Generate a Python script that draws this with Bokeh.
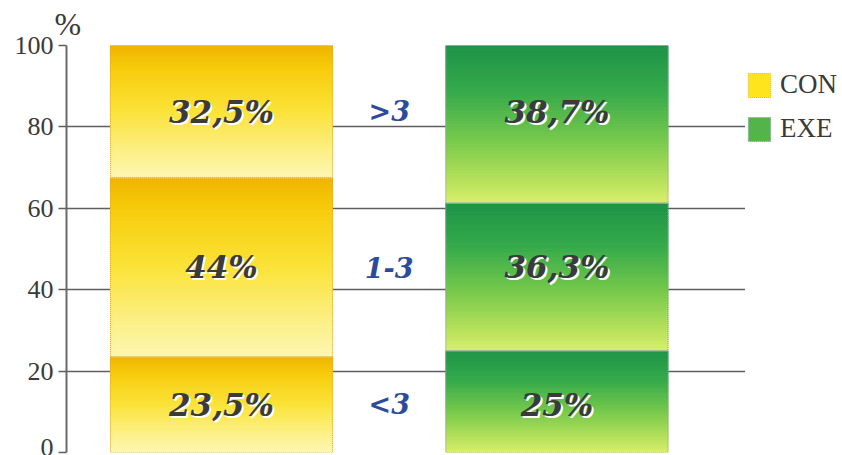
import numpy as np
from bokeh.plotting import figure
from bokeh.layouts import row
from bokeh.models import ColumnDataSource, FixedTicker, Legend, LegendItem, Range1d
from bokeh.core.properties import value
from bokeh.embed import file_html
from bokeh.resources import INLINE

# ---- data -------------------------------------------------------------
groups = ["CON", "EXE"]
classes = ["<3", "1-3", ">3"]          # bottom -> top
con_share = [23.5, 44.0, 32.5]          # %
exe_share = [25.0, 36.3, 38.7]          # %
y_ticks = [0, 20, 40, 60, 80, 100]

# ---- layout / style ---------------------------------------------------
group_x = {"CON": 1.0, "EXE": 2.0}
label_x = 1.5
bar_width = 0.662

con_stops = [(0.0, "#efb300"), (0.18, "#f7cc0c"), (0.5, "#fbe339"),
             (0.82, "#fcf08a"), (1.0, "#fdf6b2")]
exe_stops = [(0.0, "#1d9347"), (0.3, "#36aa4b"), (0.6, "#76c94c"),
             (0.85, "#b4e05a"), (1.0, "#d8ee6c")]

HEAVY = value("DejaVu Serif")


def hex_rgb(h):
    h = h.lstrip("#")
    return np.array([int(h[i:i + 2], 16) for i in (0, 2, 4)], dtype=float)


def blend(stops, f):
    for (f0, c0), (f1, c1) in zip(stops[:-1], stops[1:]):
        if f0 <= f <= f1:
            t = (f - f0) / (f1 - f0)
            rgb = hex_rgb(c0) * (1 - t) + hex_rgb(c1) * t
            return "#%02x%02x%02x" % tuple(int(round(v)) for v in rgb)
    return stops[-1][1]


def stack(shares):
    tops = np.cumsum(shares)
    bottoms = tops - np.asarray(shares)
    return bottoms, tops


def gradient_source(x, shares, stops, n=60):
    """Thin horizontal strips that shade each stacked segment top -> bottom."""
    bottoms, tops = stack(shares)
    d = dict(left=[], right=[], bottom=[], top=[], color=[])
    for b, t in zip(bottoms, tops):
        edges = np.linspace(t, b, n + 1)
        for i in range(n):
            d["left"].append(x - bar_width / 2)
            d["right"].append(x + bar_width / 2)
            d["top"].append(edges[i])
            d["bottom"].append(edges[i + 1])
            d["color"].append(blend(stops, (i + 0.5) / n))
    return ColumnDataSource(d)


def fmt(v):
    return ("%g" % v).replace(".", ",") + "%"


p = figure(width=745, height=455, output_backend="svg", toolbar_location=None,
           x_range=Range1d(0.538, 2.562), y_range=Range1d(0, 100),
           x_axis_location=None, min_border_left=66, min_border_top=45,
           min_border_bottom=3, min_border_right=0, title="%")
p.outline_line_color = None
p.background_fill_color = "white"
p.border_fill_color = "white"

# unit shown above the axis
p.title.align = "left"
p.title.offset = -12
p.title.standoff = 7
p.title.text_font = "Liberation Serif"
p.title.text_font_style = "normal"
p.title.text_font_size = "32px"
p.title.text_color = "#3a3a3a"

# grid + axis
p.xgrid.visible = False
p.ygrid.ticker = FixedTicker(ticks=y_ticks)
p.ygrid.grid_line_color = "#5e5e5e"
p.ygrid.grid_line_width = 1.5
ax = p.yaxis[0]
ax.ticker = FixedTicker(ticks=y_ticks)
ax.axis_line_color = "#6a6a6a"
ax.axis_line_width = 2
ax.major_tick_line_color = "#5e5e5e"
ax.major_tick_line_width = 1.5
ax.major_tick_out = 8
ax.major_tick_in = 0
ax.minor_tick_line_color = None
ax.major_label_standoff = 5
ax.major_label_text_font = "Liberation Serif"
ax.major_label_text_font_size = "26px"
ax.major_label_text_color = "#3a3a3a"

# stacked bars with shaded segments
bar_outline = {"CON": "#e3a532", "EXE": "#8fa3a0"}
for g, shares, stops in (("CON", con_share, con_stops), ("EXE", exe_share, exe_stops)):
    x = group_x[g]
    src = gradient_source(x, shares, stops)
    p.quad(left="left", right="right", top="top", bottom="bottom", source=src,
           fill_color="color", line_color="color", line_width=1)
    bottoms, tops = stack(shares)
    p.quad(left=[x - bar_width / 2] * len(shares), right=[x + bar_width / 2] * len(shares),
           bottom=list(bottoms), top=list(tops), fill_color=None,
           line_color=bar_outline[g], line_width=1, line_dash="1 1")

# rows follow the CON segment centres
con_b, con_t = stack(con_share)
row_y = list((con_b + con_t) / 2)

vals = ColumnDataSource(dict(
    x=[group_x["CON"]] * 3 + [group_x["EXE"]] * 3,
    y=row_y + row_y,
    text=[fmt(v) for v in con_share] + [fmt(v) for v in exe_share],
))
p.text(x="x", y="y", text="text", source=vals, x_offset=2, y_offset=2,
       text_font=HEAVY, text_font_style="bold italic", text_font_size="31px",
       text_color="white", text_align="center", text_baseline="middle")
p.text(x="x", y="y", text="text", source=vals,
       text_font=HEAVY, text_font_style="bold italic", text_font_size="31px",
       text_color="#3b3b3b", text_align="center", text_baseline="middle")

rows = ColumnDataSource(dict(x=[label_x] * 3, y=row_y, text=classes))
p.text(x="x", y="y", text="text", source=rows,
       text_font=HEAVY, text_font_style="bold italic", text_font_size="27px",
       text_color="#2d4b9b", text_align="center", text_baseline="middle")

# legend in a narrow side figure (key renderers carry no visible data)
side = figure(width=97, height=455, output_backend="svg", toolbar_location=None,
              x_range=Range1d(0, 1), y_range=Range1d(0, 1),
              x_axis_location=None, y_axis_location=None,
              min_border=0, min_border_left=0, min_border_right=0,
              min_border_top=0, min_border_bottom=0)
side.outline_line_color = None
side.xgrid.visible = False
side.ygrid.visible = False
nan = [float("nan")]
con_key = side.quad(left=nan, right=nan, top=nan, bottom=nan, fill_color="#fde41c",
                    line_color="#e6b532", line_dash="1 1")
exe_key = side.quad(left=nan, right=nan, top=nan, bottom=nan, fill_color="#52b44a",
                    line_color="#8fa3a0", line_dash="1 1")
legend = Legend(items=[LegendItem(label=groups[0], renderers=[con_key]),
                       LegendItem(label=groups[1], renderers=[exe_key])],
                location=(0, 308), orientation="vertical",
                glyph_width=28, glyph_height=30, label_standoff=7, spacing=13,
                padding=4, margin=0, border_line_color=None,
                background_fill_alpha=0,
                label_text_font="Liberation Serif", label_text_font_size="27px",
                label_text_color="#3a3a3a")
side.add_layout(legend)

layout = row(p, side, spacing=0)
open("out.html", "w").write(file_html(layout, INLINE))
